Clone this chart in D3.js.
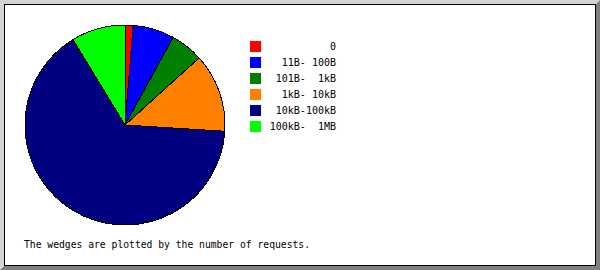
<!DOCTYPE html>
<html>
<head>
<meta charset="utf-8">
<script src="https://cdn.jsdelivr.net/npm/d3@7/dist/d3.min.js"></script>
<style>
  html, body { margin: 0; padding: 0; background: #ffffff; }
  svg { display: block; }
  text { font-family: "DejaVu Sans Mono", "Liberation Mono", monospace; white-space: pre; fill: #000; }
</style>
</head>
<body>
<svg id="chart" width="600" height="270"></svg>
<script>
// Transfer size buckets and share of requests (percent)
const categories = ["0", "11B- 100B", "101B-  1kB", "1kB- 10kB", "10kB-100kB", "100kB-  1MB"];
const requestShare = [1.3, 6.7, 5.3, 12.7, 65.3, 8.7];
const sliceColors = ["#ff0000", "#0000ff", "#008000", "#ff8000", "#000080", "#00ff00"];
const footnote = "The wedges are plotted by the number of requests.";

const W = 600, H = 270;
const svg = d3.select("#chart");

// Bevelled frame: light top/left, dark bottom/right, thin black inner line
const bw = 4;
svg.append("rect").attr("width", W).attr("height", H).attr("fill", "#ffffff");
svg.append("path")
  .attr("d", `M0,0 H${W} L${W - bw},${bw} H${bw} V${H - bw} L0,${H} Z`)
  .attr("fill", "#d4d4d4");
svg.append("path")
  .attr("d", `M${W},0 V${H} H0 L${bw},${H - bw} H${W - bw} V${bw} Z`)
  .attr("fill", "#808080");
svg.append("rect")
  .attr("x", bw + 0.5).attr("y", bw + 0.5)
  .attr("width", W - 2 * bw - 1).attr("height", H - 2 * bw - 1)
  .attr("fill", "none").attr("stroke", "#000").attr("stroke-width", 1);

// Pie, starting at twelve o'clock and running clockwise in bucket order
const cx = 125, cy = 125, radius = 100;
const pie = d3.pie().sort(null).value(d => d)(requestShare);
const arc = d3.arc().innerRadius(0).outerRadius(radius);

const pieG = svg.append("g").attr("transform", `translate(${cx},${cy})`);
pieG.selectAll("path")
  .data(pie)
  .join("path")
  .attr("d", arc)
  .attr("fill", (d, i) => sliceColors[i])
  .attr("stroke", "#000")
  .attr("stroke-width", 1)
  .attr("shape-rendering", "crispEdges");

// Legend: colour swatches with right-aligned bucket labels
const legendY = d3.scaleLinear().domain([0, categories.length - 1]).range([41, 121]);
const legend = svg.append("g");
legend.selectAll("rect")
  .data(categories)
  .join("rect")
  .attr("x", 250)
  .attr("y", (d, i) => legendY(i))
  .attr("width", 11)
  .attr("height", 11)
  .attr("fill", (d, i) => sliceColors[i]);
legend.selectAll("text")
  .data(categories)
  .join("text")
  .attr("x", 336)
  .attr("y", (d, i) => legendY(i) + 9)
  .attr("text-anchor", "end")
  .attr("font-size", 10)
  .text(d => d);

svg.append("text")
  .attr("x", 24)
  .attr("y", 248)
  .attr("font-size", 10)
  .attr("textLength", 286)
  .attr("lengthAdjust", "spacingAndGlyphs")
  .text(footnote);
</script>
</body>
</html>
